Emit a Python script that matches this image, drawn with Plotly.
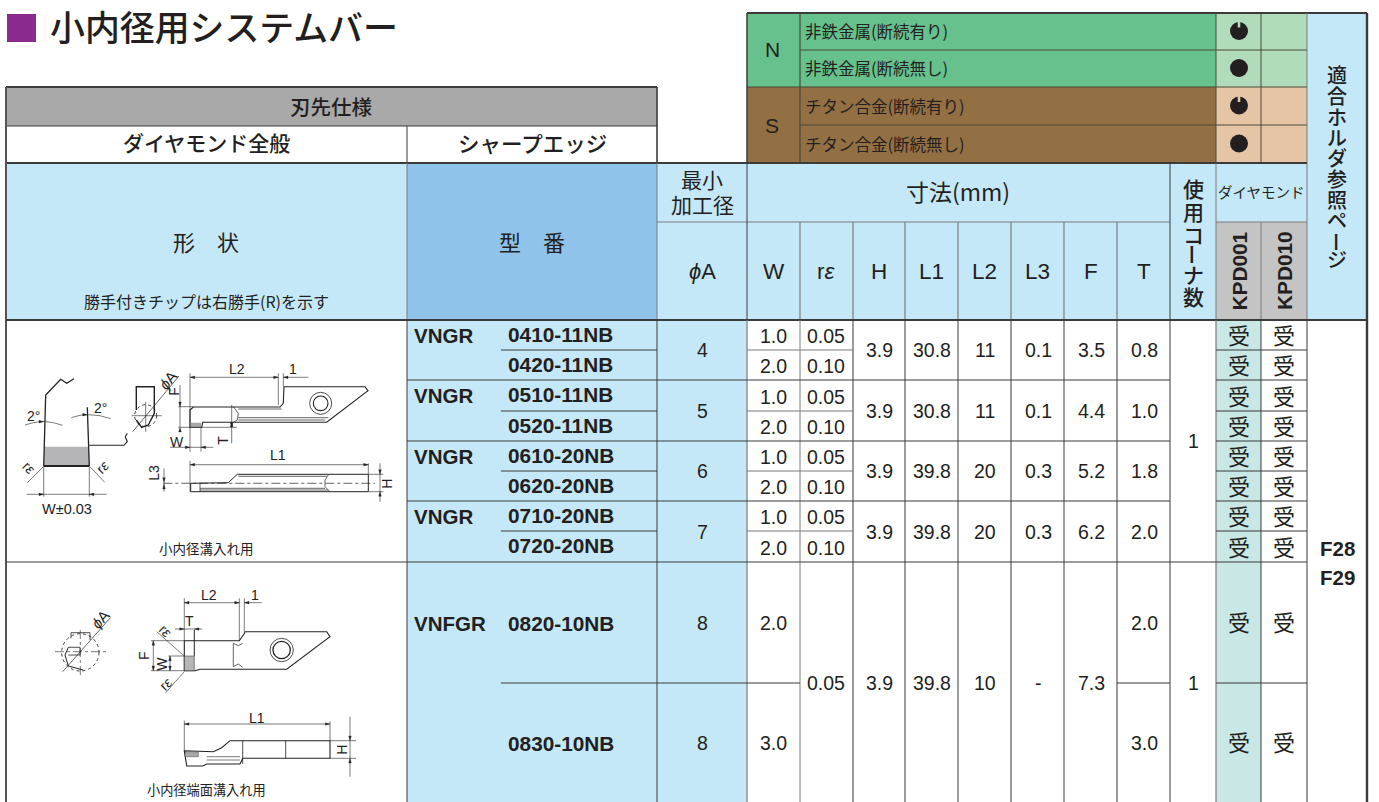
import plotly.graph_objects as go

# ---------- table data ----------
title = "小内径用システムバー"
series = ["VNGR", "VNGR", "VNGR", "VNGR", "VNFGR"]
models = ["0410-11NB", "0420-11NB", "0510-11NB", "0520-11NB", "0610-20NB", "0620-20NB",
          "0710-20NB", "0720-20NB", "0820-10NB", "0830-10NB"]
phi_a = [4, 5, 6, 7, 8, 8]
w_vals = ["1.0", "2.0", "1.0", "2.0", "1.0", "2.0", "1.0", "2.0", "2.0", "3.0"]
r_vals = ["0.05", "0.10", "0.05", "0.10", "0.05", "0.10", "0.05", "0.10", "0.05"]
h_vals = ["3.9", "3.9", "3.9", "3.9", "3.9"]
l1_vals = ["30.8", "30.8", "39.8", "39.8", "39.8"]
l2_vals = ["11", "11", "20", "20", "10"]
l3_vals = ["0.1", "0.1", "0.3", "0.3", "-"]
f_vals = ["3.5", "4.4", "5.2", "6.2", "7.3"]
t_vals = ["0.8", "1.0", "1.8", "2.0", "2.0", "3.0"]
corners = ["1", "1"]
grade_mark = "受"
dim_heads = ["W", "r<i>ε</i>", "H", "L1", "L2", "L3", "F", "T"]
grades = ["KPD001", "KPD010"]
pages = ["F28", "F29"]
materials = ["非鉄金属(断続有り)", "非鉄金属(断続無し)", "チタン合金(断続有り)", "チタン合金(断続無し)"]

# ---------- layout grid ----------
XC = [747, 800, 853, 905, 958, 1011, 1064, 1117, 1170, 1216, 1261, 1307, 1367]
YR = [320, 350, 380, 411, 441, 471, 501, 531, 562, 683, 802]
YM = [13, 50, 87, 125, 163]
INK = "#231f20"
DARK = "#3b3b3b"
GREY = "#7b7b7b"
LB = "#c5e8f9"
MB = "#8fc3ea"
JP = "Noto Sans CJK JP"
JPM = "Noto Sans CJK JP Medium, Noto Sans CJK JP"
LAT = "Liberation Sans"

shapes, ann = [], []


def rect(x0, y0, x1, y1, fill):
    shapes.append(dict(type="rect", x0=x0, y0=y0, x1=x1, y1=y1, fillcolor=fill, line_width=0, layer="below"))


def line(x0, y0, x1, y1, color=DARK, w=1.0, dash=None):
    d = dict(type="line", x0=x0, y0=y0, x1=x1, y1=y1, line=dict(color=color, width=w))
    if dash:
        d["line"]["dash"] = dash
    shapes.append(d)


def text(x, y, s, size=18, font=LAT, color=INK, anchor="center", angle=0, bold=False):
    if bold:
        s = "<b>" + s + "</b>"
    if font in (JP, JPM) and angle == 0:
        y -= 2  # CJK glyphs sit low in their line box
    ann.append(dict(x=x, y=y, text=s, showarrow=False, xanchor=anchor, yanchor="middle", textangle=angle,
                    font=dict(size=size, family=font, color=color), borderpad=0, borderwidth=0))


def vtext(x, ys, s, size):
    for yy, ch in zip(ys, s):
        text(x, yy + 1, ch, size, JPM, angle=90 if ch == "ー" else 0)


# ---------- fills ----------
rect(7, 14, 36, 42, "#8b2a8e")
rect(6, 87, 657, 126, "#a9a9a9")
rect(6, 163, 407, 320, LB)
rect(407, 163, 657, 320, MB)
rect(657, 163, 1216, 320, LB)
rect(1216, 163, 1307, 222, LB)
rect(1216, 222, 1307, 320, "#c4c4c4")
rect(1307, 13, 1367, 320, LB)
rect(407, 320, 747, 802, LB)
rect(1216, 320, 1261, 802, "#c8e7e5")
rect(747, YM[0], 1216, YM[2], "#66c18c")
rect(747, YM[2], 1216, YM[4], "#936f44")
rect(1216, YM[0], 1307, YM[2], "#b0dcbc")
rect(1216, YM[2], 1307, YM[4], "#e5c5a5")

# ---------- lines: top block ----------
for yy in YM[1:4]:
    line(800, yy, 1307, yy, "#4a4a3a", 1.2)
line(747, YM[2], 800, YM[2], "#4a4a3a", 1.2)
line(747, 13, 1367, 13, DARK, 2.2)
line(747, 13, 747, 163, DARK, 1.5)
line(800, 13, 800, 163, "#4a4a3a", 1.2)
line(1216, 13, 1216, 163, "#4a4a3a", 1)
line(1261, 13, 1261, 163, "#4a4a3a", 1)
line(1307, 13, 1307, 320, GREY, 1)
line(1367, 13, 1367, 802, DARK, 2.4)
# left block
line(6, 87, 657, 87, DARK, 2)
line(6, 126, 657, 126, DARK, 1.2)
line(6, 163, 1307, 163, DARK, 2)
line(657, 87, 657, 163, DARK, 1.6)
line(407, 126, 407, 163, DARK, 1)
line(6, 87, 6, 802, "#555555", 2)
# header
line(657, 222, 1170, 222, GREY, 1.2)
line(1216, 222, 1307, 222, GREY, 1.2)
line(407, 163, 407, 320, GREY, 1)
line(657, 163, 657, 320, GREY, 1)
line(747, 163, 747, 320, DARK, 1)
for xx in XC[1:8]:
    line(xx, 222, xx, 320, GREY, 1.2)
line(1170, 163, 1170, 320, DARK, 1)
line(1216, 163, 1216, 320, GREY, 1)
line(1261, 222, 1261, 320, GREY, 1)
line(6, 320, 1367, 320, DARK, 2.2)
# body verticals
line(407, 320, 407, 802, DARK, 1)
line(657, 320, 657, 802, DARK, 1)
line(747, 320, 747, 802, GREY, 1.2)
for xx in XC[1:9]:
    line(xx, 320, xx, 802, GREY if xx < 853 else DARK, 1)
line(1216, 320, 1216, 802, GREY, 1.2)
line(1261, 320, 1261, 802, DARK, 1)
line(1307, 320, 1307, 802, DARK, 1)
# body horizontals
for i in (2, 4, 6):
    line(407, YR[i], 1170, YR[i], DARK, 1)
    line(1216, YR[i], 1307, YR[i], DARK, 1)
line(6, 562, 1307, 562, DARK, 1)
for i in (1, 3, 5, 7):
    line(501, YR[i], 657, YR[i], DARK, 1)
    line(747, YR[i], 853, YR[i], GREY, 1.2)
    line(1216, YR[i], 1307, YR[i], DARK, 1)
line(501, 683, 800, 683, DARK, 1)
line(1117, 683, 1170, 683, DARK, 1)
line(1216, 683, 1307, 683, DARK, 1)

# ---------- heading texts ----------
text(50, 28, title, 34.9, JPM, anchor="left")
text(331, 108, "刃先仕様", 20.5, JPM)
text(206, 144, "ダイヤモンド全般", 21, JPM)
text(532, 144, "シャープエッジ", 21.5, JPM)
text(206, 243, "形　状", 22, JP)
text(532, 243, "型　番", 22, JP)
text(206, 303, "勝手付きチップは右勝手(R)を示す", 16, JP)
text(702, 181, "最小", 21, JP)
text(702, 206, "加工径", 21, JP)
text(702, 271, "<i>ϕ</i>A", 22, LAT)
text(958, 193, "寸法(mm)", 23, JP)
for i, h in enumerate(dim_heads):
    text((XC[i] + XC[i + 1]) / 2, 271, h, 22.5, LAT)
vtext(1193, [189, 212, 235, 253, 275, 297], "使用コーナ数", 21)
vtext(1337, [75, 96, 117, 138, 158, 179, 200, 220, 241, 260], "適合ホルダ参照ページ", 20)
text(1261, 193, "ダイヤモンド", 14.5, JP)
for i, g in enumerate(grades):
    text((XC[9 + i] + XC[10 + i]) / 2, 271, g, 20.8, LAT, angle=-90, bold=True)
text(772, 49, "N", 21, LAT)
text(772, 125, "S", 21, LAT)
for i, m in enumerate(materials):
    text(805, (YM[i] + YM[i + 1]) / 2 + 1.5, m, 16.5, JP, anchor="left")

# ---------- body texts ----------
mids = [(YR[i] + YR[i + 1]) / 2 for i in range(10)]
groups = [(YR[0] + YR[2]) / 2, (YR[2] + YR[4]) / 2, (YR[4] + YR[6]) / 2, (YR[6] + YR[8]) / 2, YR[9]]
NUM = 19.5
for i, m in enumerate(models):
    text(508, mids[i] - 1 if i < 8 else mids[i] + 1, m, 20.8, LAT, anchor="left", bold=True)
    text(773, mids[i] + 1 if i < 8 else mids[i], w_vals[i], NUM)
    text(1239, mids[i] + (1 if i < 8 else 0), grade_mark, 22, JP)
    text(1284, mids[i] + (1 if i < 8 else 0), grade_mark, 22, JP)
for i, s in enumerate(series):
    text(414, [335, 395, 456, 516, 623][i], s, 20.5, LAT, anchor="left", bold=True)
for i, v in enumerate(r_vals[:8]):
    text(826, mids[i] + 1, v, NUM)
text(826, groups[4], r_vals[8], NUM)
for i, g in enumerate(groups):
    text(879, g, h_vals[i], NUM)
    text(932, g, l1_vals[i], NUM)
    text(985, g, l2_vals[i], NUM)
    text(1038, g, l3_vals[i], NUM)
    text(1091, g, f_vals[i], NUM)
for i, g in enumerate(groups[:4]):
    text(702, g, str(phi_a[i]), NUM)
    text(1144, g, t_vals[i], NUM)
text(702, mids[8], str(phi_a[4]), NUM)
text(702, mids[9], str(phi_a[5]), NUM)
text(1144, mids[8], t_vals[4], NUM)
text(1144, mids[9], t_vals[5], NUM)
text(1193, 441, corners[0], NUM)
text(1193, 683, corners[1], NUM)
text(1337, 548, pages[0], 20.5, LAT, bold=True)
text(1337, 577, pages[1], 20.5, LAT, bold=True)

# ---------- schematic drawings (coordinates of the line art) ----------
OY1, OY2 = 320, 560


def p1(x, y):
    return x / 3, OY1 + y / 3


def p2(x, y):
    return x / 3, OY2 + y / 3


def path(conv, pts, w=0.8, color="#222222", fill=None, close=False, dash=None):
    q = [conv(*a) for a in pts]
    d = "M" + " L".join(f"{a:.1f},{b:.1f}" for a, b in q) + (" Z" if close else "")
    s = dict(type="path", path=d, line=dict(color=color, width=w))
    if dash:
        s["line"]["dash"] = dash
    if fill:
        s["fillcolor"] = fill
    shapes.append(s)


def circ(conv, cx, cy, r, w=0.8, dash=None, fill=None):
    x0, y0 = conv(cx - r, cy - r)
    x1, y1 = conv(cx + r, cy + r)
    s = dict(type="circle", x0=x0, y0=y0, x1=x1, y1=y1, line=dict(color="#222222", width=w))
    if dash:
        s["line"]["dash"] = dash
    if fill:
        s["fillcolor"] = fill
    shapes.append(s)


def lab(conv, x, y, s, size=14, angle=0):
    a, b = conv(x, y)
    text(a, b, s, size, LAT, color="#222222", angle=angle)


def tips(conv, items):
    """Small filled dimension arrowheads: (x, y, direction)."""
    v = {"r": (1, 0), "l": (-1, 0), "u": (0, -1), "d": (0, 1)}
    for x, y, k in items:
        dx, dy = v[k]
        path(conv, [(x, y), (x - 14 * dx + 4 * dy, y - 14 * dy + 4 * dx),
                    (x - 14 * dx - 4 * dy, y - 14 * dy - 4 * dx)], 0.3, fill="#222222", close=True)


# drawing 1: front detail
path(p1, [(134, 380), (266, 380), (268, 438), (131, 438)], 0, fill="#b5b5b8", close=True)
path(p1, [(131, 438), (137, 225), (182, 178), (200, 190), (222, 176)], 1.3)
path(p1, [(268, 438), (262, 262)], 1.3)
path(p1, [(131, 438), (268, 438)], 1.8)
path(p1, [(268, 376), (372, 376), (382, 365), (376, 350), (382, 340)], 1.1)
path(p1, [(75, 315), (100, 308), (130, 304), (160, 308), (188, 316)], 0.6)
path(p1, [(214, 293), (240, 286), (265, 284), (300, 287), (332, 296)], 0.6)
path(p1, [(82, 488), (130, 440)], 0.6)
path(p1, [(314, 487), (270, 440)], 0.6)
path(p1, [(131, 440), (131, 530)], 0.6)
path(p1, [(268, 440), (268, 530)], 0.6)
path(p1, [(80, 523), (320, 523)], 0.6)
tips(p1, [(131, 523, "r"), (268, 523, "l"), (131, 305, "r"), (262, 284, "r")])
lab(p1, 100, 288, "2°")
lab(p1, 300, 263, "2°")
lab(p1, 88, 445, "r<i>ε</i>", 14, 45)
lab(p1, 308, 442, "r<i>ε</i>", 14, -45)
lab(p1, 200, 568, "W±0.03", 14.5)
# drawing 1: cross-section
path(p1, [(409, 270), (409, 200), (463, 200), (463, 280), (445, 315), (425, 322), (409, 300)], 1.4)
circ(p1, 437, 287, 33, 0.9, "dot")
path(p1, [(398, 335), (537, 168)], 0.7)
path(p1, [(395, 287), (485, 287)], 0.6)
path(p1, [(437, 245), (437, 335)], 0.6)
lab(p1, 503, 182, "<i>ϕ</i>A", 15, -50)
# drawing 1: top view
path(p1, [(570, 270), (580, 261), (840, 261), (850, 250), (852, 200), (1095, 200), (1104, 212),
          (980, 307), (608, 307), (605, 322), (570, 322)], 1.1, close=True)
path(p1, [(572, 308), (603, 308), (603, 322), (572, 322)], 0, fill="#a8a8aa", close=True)
circ(p1, 962, 250, 33, 0.8)
circ(p1, 962, 250, 22, 1.1)
path(p1, [(700, 260), (715, 280), (712, 300), (700, 307)], 0.7)
path(p1, [(715, 293), (985, 293)], 0.7)
path(p1, [(715, 300), (975, 300)], 0.7)
path(p1, [(715, 267), (845, 267)], 0.7)
path(p1, [(570, 172), (835, 172)], 0.6)
path(p1, [(850, 172), (925, 172)], 0.6)
path(p1, [(570, 160), (570, 395)], 0.6)
path(p1, [(835, 160), (835, 255)], 0.6)
path(p1, [(850, 160), (850, 200)], 0.6)
path(p1, [(540, 195), (540, 322)], 0.6)
path(p1, [(535, 260), (580, 260)], 0.6)
path(p1, [(535, 322), (710, 322)], 0.6)
path(p1, [(695, 255), (695, 370)], 0.6)
path(p1, [(510, 382), (640, 382)], 0.6)
path(p1, [(603, 322), (603, 395)], 0.6)
tips(p1, [(570, 172, "l"), (835, 172, "r"), (850, 172, "l"), (540, 260, "d"), (540, 322, "u"),
          (695, 307, "u"), (695, 322, "d"), (570, 382, "r"), (603, 382, "l")])
lab(p1, 710, 148, "L2")
lab(p1, 880, 148, "1")
lab(p1, 522, 215, "F", 14, -90)
lab(p1, 668, 360, "T", 14, -90)
lab(p1, 530, 365, "W")
# drawing 1: side view
path(p1, [(572, 490), (685, 488), (712, 463), (1105, 463), (1105, 515), (572, 515)], 1.0, close=True)
path(p1, [(600, 490), (600, 515)], 0.7)
path(p1, [(600, 505), (975, 505)], 0.7)
path(p1, [(600, 510), (985, 510)], 0.7)
path(p1, [(715, 469), (980, 469)], 0.7)
path(p1, [(985, 465), (975, 480), (975, 500), (990, 515)], 0.7)
path(p1, [(490, 490), (1125, 490)], 0.7, dash="dashdot")
path(p1, [(570, 434), (1105, 434)], 0.6)
path(p1, [(570, 422), (570, 515)], 0.6)
path(p1, [(1105, 430), (1105, 463)], 0.6)
path(p1, [(492, 445), (492, 515)], 0.6)
path(p1, [(1140, 430), (1140, 545)], 0.6)
path(p1, [(1105, 463), (1150, 463)], 0.6)
path(p1, [(1105, 515), (1150, 515)], 0.6)
tips(p1, [(570, 434, "l"), (1105, 434, "r"), (1140, 463, "d"), (1140, 515, "u"), (492, 487, "d"), (492, 493, "u")])
lab(p1, 835, 406, "L1")
lab(p1, 462, 458, "L3", 14, -90)
lab(p1, 1162, 490, "H", 14, -90)
text(206, 550, "小内径溝入れ用", 13.5, JP, color="#222222")

# drawing 2: cross-section
circ(p2, 241, 277, 56, 0.9, "dot")
path(p2, [(213, 235), (213, 218), (270, 218), (270, 240)], 0.8)
path(p2, [(205, 262), (240, 262), (240, 285), (205, 285)], 0.8)
path(p2, [(205, 262), (195, 285), (205, 318), (250, 330)], 1.0)
path(p2, [(165, 275), (318, 275)], 0.6, dash="dashdot")
path(p2, [(241, 210), (241, 350)], 0.6, dash="dashdot")
path(p2, [(188, 335), (332, 172)], 0.7)
lab(p2, 300, 178, "<i>ϕ</i>A", 15, -48)
# drawing 2: top view
path(p2, [(553, 332), (553, 242), (718, 242), (732, 222), (735, 215), (980, 215), (990, 230),
          (860, 328), (600, 328), (585, 332)], 1.1, close=True)
path(p2, [(553, 288), (583, 288), (583, 332), (553, 332)], 0.5, fill="#b5b5b8", close=True)
circ(p2, 845, 270, 35, 0.8)
circ(p2, 845, 270, 26, 1.3)
path(p2, [(583, 210), (583, 288)], 1.0)
path(p2, [(553, 115), (553, 242)], 0.6)
path(p2, [(700, 250), (700, 320)], 0.7)
path(p2, [(700, 250), (715, 257), (728, 250)], 0.7)
path(p2, [(700, 320), (715, 312), (728, 322)], 0.7)
path(p2, [(553, 128), (718, 128)], 0.6)
path(p2, [(718, 115), (718, 242)], 0.6)
path(p2, [(733, 115), (733, 215)], 0.6)
path(p2, [(733, 128), (785, 128)], 0.6)
path(p2, [(525, 207), (607, 207)], 0.6)
path(p2, [(470, 215), (553, 288)], 0.6)
path(p2, [(497, 398), (553, 335)], 0.6)
path(p2, [(460, 242), (460, 332)], 0.6)
path(p2, [(453, 242), (553, 242)], 0.6)
path(p2, [(453, 332), (553, 332)], 0.6)
path(p2, [(510, 288), (510, 332)], 0.6)
path(p2, [(505, 288), (553, 288)], 0.6)
tips(p2, [(553, 128, "l"), (718, 128, "r"), (733, 128, "l"), (553, 207, "r"), (583, 207, "l"),
          (460, 242, "u"), (460, 332, "d"), (510, 288, "u"), (510, 332, "d")])
lab(p2, 628, 105, "L2")
lab(p2, 766, 105, "1")
lab(p2, 568, 183, "T")
lab(p2, 497, 212, "r<i>ε</i>", 14, 45)
lab(p2, 497, 372, "r<i>ε</i>", 14, -45)
lab(p2, 432, 288, "F", 14, -90)
lab(p2, 485, 312, "W", 14, -90)
# drawing 2: side view
path(p2, [(553, 572), (640, 575), (665, 563), (690, 542), (990, 542), (990, 595), (728, 595),
          (720, 612), (620, 612), (608, 618), (560, 618)], 1.1, close=True)
path(p2, [(555, 575), (595, 575), (595, 590), (555, 590)], 0.4, fill="#a8a8aa", close=True)
path(p2, [(728, 542), (728, 612)], 0.8)
path(p2, [(857, 542), (857, 595)], 0.8)
path(p2, [(620, 590), (720, 590)], 0.6)
path(p2, [(620, 600), (720, 600)], 0.6)
path(p2, [(553, 492), (990, 492)], 0.6)
path(p2, [(553, 482), (553, 572)], 0.6)
path(p2, [(990, 484), (990, 542)], 0.6)
path(p2, [(1050, 470), (1050, 650)], 0.6)
path(p2, [(990, 542), (1068, 542)], 0.6)
path(p2, [(990, 595), (1068, 595)], 0.6)
tips(p2, [(553, 492, "l"), (990, 492, "r"), (1050, 542, "d"), (1050, 595, "u")])
lab(p2, 770, 473, "L1")
lab(p2, 1025, 570, "H", 14, -90)
text(206, 791, "小内径端面溝入れ用", 13.2, JP, color="#222222")

# ---------- cutting-condition dots ----------
dot_y = [(YM[i] + YM[i + 1]) / 2 - 0.5 for i in range(4)]
fig = go.Figure(go.Scatter(x=[1239] * 4, y=dot_y, mode="markers", hoverinfo="skip", showlegend=False,
                           marker=dict(size=18, color=INK, line_width=0)))
for i, c in zip((0, 2), ("#b0dcbc", "#e5c5a5")):
    yy = dot_y[i]
    shapes.append(dict(type="rect", x0=1237.7, x1=1240.3, y0=yy - 10, y1=yy - 3.5, fillcolor=c, line_width=0))

fig.update_layout(
    width=1379, height=802, margin=dict(l=0, r=0, t=0, b=0), paper_bgcolor="white", plot_bgcolor="white",
    xaxis=dict(range=[0, 1379], visible=False, fixedrange=True),
    yaxis=dict(range=[802, 0], visible=False, fixedrange=True),
    shapes=shapes, annotations=ann, showlegend=False,
)
fig.write_html("out.html", config=dict(displayModeBar=False),
               post_script="document.body.style.margin='0';document.documentElement.style.overflow='hidden';")
